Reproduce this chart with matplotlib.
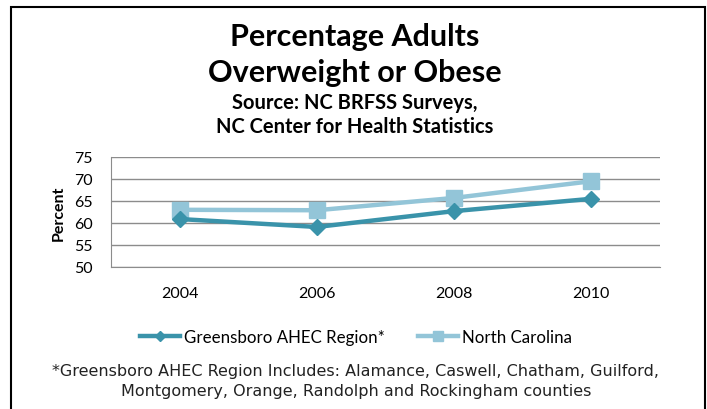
import matplotlib
matplotlib.use('Agg')
import matplotlib.pyplot as plt
from matplotlib.patches import Rectangle

# data
years = ['2004', '2006', '2008', '2010']
greensboro = [60.9, 59.1, 62.7, 65.5]
north_carolina = [63.0, 62.9, 65.7, 69.5]
yticks = [50, 55, 60, 65, 70, 75]

plt.rcParams['font.family'] = ['Lato', 'DejaVu Sans']

fig = plt.figure(figsize=(7.07, 4.10), dpi=100)
W, H = 707, 410
ax = fig.add_axes([111 / W, 1 - 268 / H, 549 / W, 110 / H])

x = range(len(years))
ax.plot(x, greensboro, color='#3A93AA', lw=3.2, marker='D', ms=8,
        label='Greensboro AHEC Region*', zorder=3)
ax.plot(x, north_carolina, color='#93C5D8', lw=3.2, marker='s', ms=11,
        label='North Carolina', zorder=2)

ax.set_xlim(-0.5, 3.5)
ax.set_ylim(50, 75)
ax.set_yticks(yticks)
ax.set_xticks(list(x))
ax.set_xticklabels(years)
ax.tick_params(length=0, labelsize=11.5)
ax.tick_params(axis='y', pad=13)
ax.tick_params(axis='x', pad=14)
ax.grid(axis='y', color='#8c8c8c', lw=1)
ax.set_axisbelow(True)
for s in ['top', 'right']:
    ax.spines[s].set_visible(False)
ax.spines['left'].set_color('#8c8c8c')
ax.spines['bottom'].set_color('#8c8c8c')
ax.set_ylabel('Percent', fontsize=11.5, fontweight='bold', labelpad=6)

# titles
fig.text(355 / W, 1 - 37 / H, 'Percentage Adults', ha='center', va='center',
         fontsize=22, fontweight='bold')
fig.text(355 / W, 1 - 73 / H, 'Overweight or Obese', ha='center', va='center',
         fontsize=22, fontweight='bold')
fig.text(355 / W, 1 - 103 / H, 'Source: NC BRFSS Surveys,', ha='center', va='center',
         fontsize=14.5, fontweight='bold')
fig.text(355 / W, 1 - 127 / H, 'NC Center for Health Statistics', ha='center', va='center',
         fontsize=14.5, fontweight='bold')

leg = fig.legend(loc='center', bbox_to_anchor=(356 / W, 1 - 338 / H), ncol=2,
                 frameon=False, fontsize=12.2, handlelength=2.35, columnspacing=2.0,
                 handletextpad=0.2, markerscale=0.65)

fig.text(356 / W, 1 - 372 / H,
         '*Greensboro AHEC Region Includes: Alamance, Caswell, Chatham, Guilford,',
         ha='center', va='center', fontsize=11.5, family='DejaVu Sans', color='#222222')
fig.text(356 / W, 1 - 392 / H,
         'Montgomery, Orange, Randolph and Rockingham counties',
         ha='center', va='center', fontsize=11.5, family='DejaVu Sans', color='#222222')

# outer chart border
fig.patches.append(Rectangle((11 / W, -0.1), 694 / W, 1 - 8 / H + 0.1,
                             transform=fig.transFigure, fill=False,
                             edgecolor='black', lw=1.5))

fig.savefig('out.png', dpi=100)
